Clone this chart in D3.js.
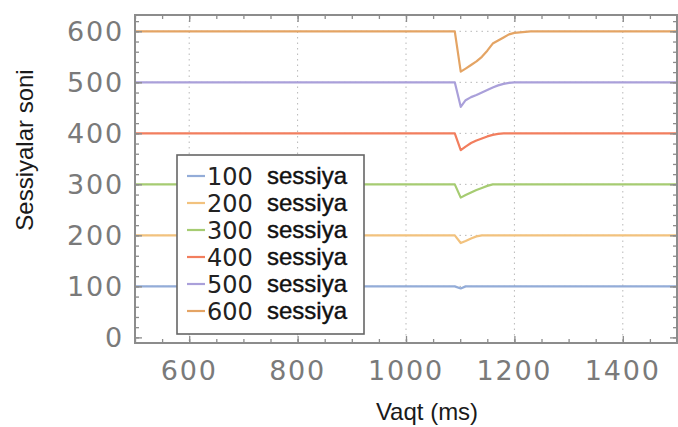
<!DOCTYPE html>
<html><head><meta charset="utf-8">
<script src="https://cdn.jsdelivr.net/npm/d3@7"></script>
<style>html,body{margin:0;padding:0;background:#fff;}svg{display:block;}</style>
</head><body>
<script>
// ---- data ----
const times = [500, 1090, 1101, 1110, 1120, 1130, 1140, 1150, 1160, 1170, 1180, 1190, 1200, 1210, 1220, 1230, 1500];
const s100 = [100, 100, 96, 100, 100, 100, 100, 100, 100, 100, 100, 100, 100, 100, 100, 100, 100];
const s200 = [200, 200, 185, 189, 194, 198, 200, 200, 200, 200, 200, 200, 200, 200, 200, 200, 200];
const s300 = [300, 300, 274, 279, 284, 289, 293, 297, 300, 300, 300, 300, 300, 300, 300, 300, 300];
const s400 = [400, 400, 367, 374, 381, 386, 390, 394, 397, 399, 400, 400, 400, 400, 400, 400, 400];
const s500 = [500, 500, 452, 465, 471, 475, 480, 485, 490, 494, 497, 499, 500, 500, 500, 500, 500];
const s600 = [600, 600, 521, 527, 534, 541, 550, 562, 576, 582, 588, 594, 597, 598, 599, 600, 600];
const seriesNames = ["100", "200", "300", "400", "500", "600"];
const seriesValues = [s100, s200, s300, s400, s500, s600];
const legendWord = "sessiya";
const xTicks = [600, 800, 1000, 1200, 1400];
const yTicks = [0, 100, 200, 300, 400, 500, 600];
const xLabel = "Vaqt (ms)";
const yLabel = "Sessiyalar soni";
const colors = ["#93acd8", "#f2c27e", "#a6cc72", "#f27e5e", "#aaa0da", "#e4a464"];

// ---- layout ----
const W = 678, H = 427;
const L = 135, R = 677, T = 15, B = 343;
const svg = d3.select("body").append("svg").attr("width", W).attr("height", H);
const x = d3.scaleLinear().domain([500, 1500]).range([L, R]);
const y = d3.scaleLinear().domain([-11, 632]).range([B, T]);

// grid
const grid = svg.append("g").attr("stroke", "#b8b8b8").attr("stroke-width", 1).attr("stroke-dasharray", "1.5,4");
grid.selectAll("line.v").data(xTicks).join("line")
  .attr("x1", d => x(d)).attr("x2", d => x(d)).attr("y1", T).attr("y2", B);
grid.selectAll("line.h").data(yTicks.filter(d => d > 0)).join("line")
  .attr("y1", d => y(d)).attr("y2", d => y(d)).attr("x1", L).attr("x2", R);

// series
const line = d3.line().x((d, i) => x(times[i])).y(d => y(d));
svg.append("g").selectAll("path").data(seriesValues).join("path")
  .attr("d", d => line(d)).attr("fill", "none")
  .attr("stroke", (d, i) => colors[i]).attr("stroke-width", 2.2)
  .attr("stroke-linejoin", "round");

// axes (ticks inward, mirrored)
const frameColor = "#8c8c8c";
function styleAxis(g) {
  g.select(".domain").remove();
  g.selectAll(".tick line").attr("stroke", frameColor).attr("stroke-width", 1.3);
  g.selectAll(".tick text").remove();
}
const xMinor = d3.range(500, 1501, 50);
const yMinor = d3.range(0, 621, 20);
[[B, d3.axisBottom], [T, d3.axisTop]].forEach(([pos, mk]) => {
  svg.append("g").attr("transform", `translate(0,${pos})`)
    .call(mk(x).tickValues(xMinor).tickSize(-4).tickFormat(""))
    .call(styleAxis);
  svg.append("g").attr("transform", `translate(0,${pos})`)
    .call(mk(x).tickValues(xTicks).tickSize(-7).tickFormat(""))
    .call(styleAxis);
});
[[L, d3.axisLeft], [R, d3.axisRight]].forEach(([pos, mk]) => {
  svg.append("g").attr("transform", `translate(${pos},0)`)
    .call(mk(y).tickValues(yMinor).tickSize(-4).tickFormat(""))
    .call(styleAxis);
  svg.append("g").attr("transform", `translate(${pos},0)`)
    .call(mk(y).tickValues(yTicks).tickSize(-7).tickFormat(""))
    .call(styleAxis);
});

// frame
svg.append("rect").attr("x", L).attr("y", T).attr("width", R - L).attr("height", B - T)
  .attr("fill", "none").attr("stroke", frameColor).attr("stroke-width", 2);

// tick labels
const tickFont = "'DejaVu Sans', Verdana, sans-serif";
svg.append("g").selectAll("text").data(xTicks).join("text")
  .attr("x", d => x(d)).attr("y", 380).attr("text-anchor", "middle")
  .attr("font-family", tickFont).attr("font-size", 27).attr("letter-spacing", 1.8)
  .attr("fill", "#7a7a7a").text(d => d);
svg.append("g").selectAll("text").data(yTicks).join("text")
  .attr("x", 124).attr("y", d => y(d) + 10).attr("text-anchor", "end")
  .attr("font-family", tickFont).attr("font-size", 27).attr("letter-spacing", 1.8)
  .attr("fill", "#7a7a7a").text(d => d);

// axis titles
svg.append("text").attr("x", 427).attr("y", 420).attr("text-anchor", "middle")
  .attr("font-family", "'Liberation Sans', Arial, sans-serif").attr("font-size", 24)
  .attr("fill", "#1a1a1a").text(xLabel);
svg.append("text").attr("transform", "translate(33,150) rotate(-90)").attr("text-anchor", "middle")
  .attr("font-family", "'Liberation Sans', Arial, sans-serif").attr("font-size", 24)
  .attr("fill", "#1a1a1a").text(yLabel);

// legend
const lg = svg.append("g");
lg.append("rect").attr("x", 177).attr("y", 155).attr("width", 187).attr("height", 179)
  .attr("fill", "#fff").attr("stroke", "#666").attr("stroke-width", 1.6);
const rows = lg.selectAll("g.row").data(seriesNames).join("g")
  .attr("transform", (d, i) => `translate(0,${176 + i * 27})`);
rows.append("line").attr("x1", 187).attr("x2", 205).attr("y1", 0).attr("y2", 0)
  .attr("stroke", (d, i) => colors[i]).attr("stroke-width", 2.2);
rows.append("text").attr("x", 207).attr("y", 9)
  .attr("font-family", tickFont).attr("font-size", 24).attr("fill", "#222").text(d => d);
rows.append("text").attr("x", 267).attr("y", 8)
  .attr("font-family", "'Liberation Sans', Arial, sans-serif").attr("font-size", 24)
  .attr("fill", "#111").attr("stroke", "#111").attr("stroke-width", 0.4).text(legendWord);
</script>
</body></html>
